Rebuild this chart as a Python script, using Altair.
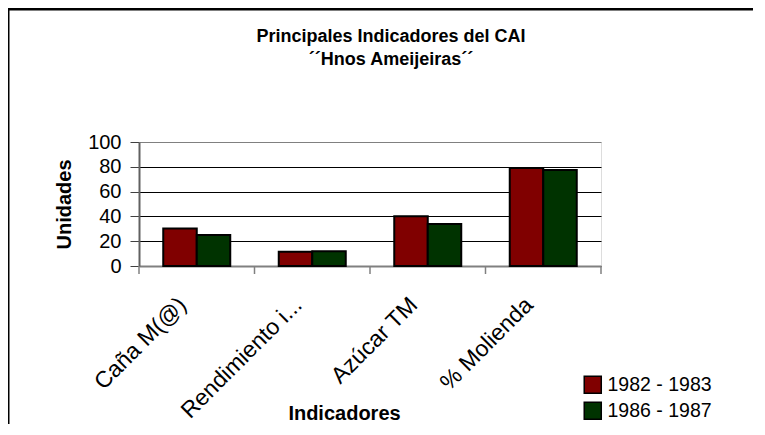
import altair as alt
import pandas as pd

title_lines = ["Principales Indicadores del CAI", "´´Hnos Ameijeiras´´"]
categories = ["Caña M(@)", "Rendimiento i...", "Azúcar TM", "% Molienda"]
series = ["1982 - 1983", "1986 - 1987"]
values_1982 = [30.3, 11.5, 40.2, 79.0]
values_1986 = [24.9, 11.8, 33.8, 77.5]
y_ticks = [0, 20, 40, 60, 80, 100]
colors = ["#800000", "#003300"]

FONT = "Liberation Sans, Arial"

rows = []
for c, a, b in zip(categories, values_1982, values_1986):
    rows.append({"cat": c, "serie": series[0], "val": a})
    rows.append({"cat": c, "serie": series[1], "val": b})
df = pd.DataFrame(rows)
cat_df = pd.DataFrame({"cat": categories})
one = pd.DataFrame({"k": [0]})

W, H = 462, 124

xscale = alt.Scale(domain=categories, paddingInner=0, paddingOuter=0)

bars = alt.Chart(df).mark_bar(stroke="black", strokeWidth=2).encode(
    x=alt.X("cat:N", sort=categories, scale=xscale,
            axis=alt.Axis(title="Indicadores", labelAngle=-45, labelAlign="right",
                          labelBaseline="middle", labelPadding=35, labelOffset=-14,
                          ticks=False, tickSize=0,
                          labelFont=FONT, labelFontSize=23, labelColor="black",
                          domainColor="#808080", domainWidth=2,
                          titleFont=FONT, titleFontSize=20, titleFontWeight="bold",
                          titleColor="black", titleX=205, titleY=153,
                          titleBaseline="alphabetic", titleAlign="center",
                          labelOverlap=False, labelLimit=300)),
    xOffset=alt.XOffset("serie:N", scale=alt.Scale(domain=series, paddingInner=0, paddingOuter=0.724)),
    y=alt.Y("val:Q", scale=alt.Scale(domain=[0, 100], nice=False),
            axis=alt.Axis(title="Unidades", values=y_ticks, tickSize=9, tickColor="#404040",
                          labelPadding=9, labelFont=FONT, labelFontSize=20, labelColor="black",
                          domainColor="#606060", domainWidth=2,
                          gridColor={"condition": {"test": "datum.value == 100", "value": "#808080"}, "value": "black"},
                          gridWidth=1,
                          titleFont=FONT, titleFontSize=20, titleFontWeight="bold",
                          titleColor="black", titlePadding=13)),
    color=alt.Color("serie:N", scale=alt.Scale(domain=series, range=colors),
                    legend=alt.Legend(title=None, orient="none", legendX=444, legendY=233,
                                      symbolType="square", symbolSize=290,
                                      symbolStrokeColor="black", symbolStrokeWidth=1.5,
                                      labelFont=FONT, labelFontSize=19.5, labelColor="black",
                                      rowPadding=2, labelOffset=5)),
)

ticks = alt.Chart(cat_df).mark_rule(color="#808080", strokeWidth=1.5).encode(
    x=alt.X("cat:N", sort=categories, scale=xscale, bandPosition=0),
    y=alt.value(H), y2=alt.value(H + 8),
)
end_tick = alt.Chart(one).mark_rule(color="#808080", strokeWidth=1.5).encode(
    x=alt.value(W), y=alt.value(H), y2=alt.value(H + 8),
)
frame_top = alt.Chart(one).mark_rule(color="black", strokeWidth=3, clip=False).encode(
    x=alt.value(-131), x2=alt.value(640), y=alt.value(-133),
)
frame_left = alt.Chart(one).mark_rule(color="black", strokeWidth=3, clip=False).encode(
    x=alt.value(-131), y=alt.value(-134), y2=alt.value(300),
)
t1 = alt.Chart(pd.DataFrame({"t": [title_lines[0]]})).mark_text(
    font=FONT, fontSize=18, fontWeight="bold", color="black", align="center", baseline="alphabetic"
).encode(text="t:N", x=alt.value(252), y=alt.value(-100))
t2 = alt.Chart(pd.DataFrame({"t": [title_lines[1]]})).mark_text(
    font=FONT, fontSize=18, fontWeight="bold", color="black", align="center", baseline="alphabetic"
).encode(text="t:N", x=alt.value(252), y=alt.value(-77))

chart = alt.layer(frame_top, frame_left, bars, ticks, end_tick, t1, t2).properties(
    width=W, height=H,
    autosize=alt.AutoSizeParams(type="none"),
    padding={"left": 131, "top": 134, "right": 152, "bottom": 158},
).configure_view(stroke="#808080", strokeWidth=2).configure(background="white")

chart.save("out.html", embed_options={"renderer": "svg", "actions": False})
